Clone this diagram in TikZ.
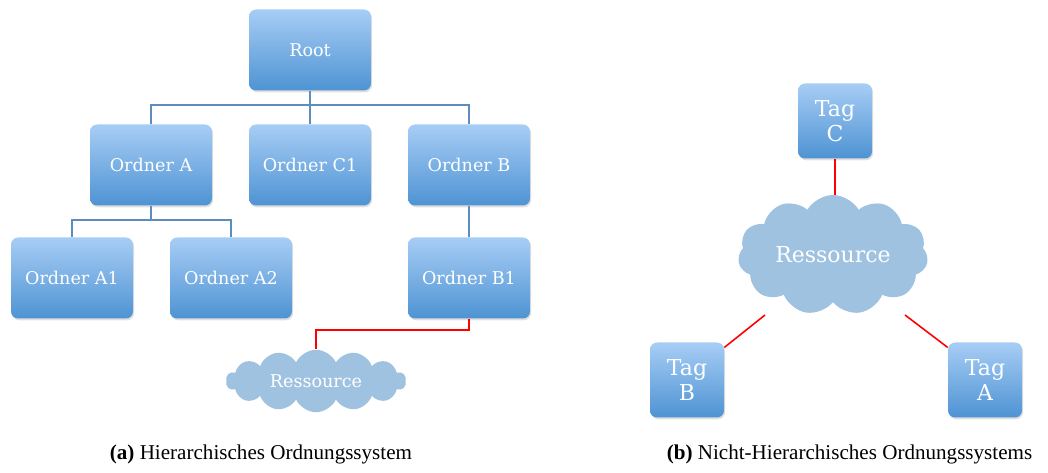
\documentclass[tikz,border=0pt]{standalone}
\usepackage{fontspec}
\setmainfont{Liberation Serif}
\newfontfamily\boxfont{DejaVu Serif}
\usetikzlibrary{positioning,
                shapes.symbols,
                shadows
            }

\definecolor{boxtop}{HTML}{A7CDF5}
\definecolor{boxbottom}{HTML}{4E93D3}
\definecolor{cloudfill}{HTML}{A0C2E1}
\definecolor{treeline}{HTML}{5C8DBE}

\tikzset{
    ordner/.style={rounded corners=4pt, top color=boxtop, bottom color=boxbottom,
        minimum width=2.44cm, minimum height=1.62cm, text=white,
        font=\boxfont\fontsize{10}{12}\selectfont,
        drop shadow={opacity=0.25, shadow xshift=0.6pt, shadow yshift=-1pt}},
    tagbox/.style={ordner, minimum width=1.48cm, minimum height=1.5cm,
        align=center, font=\boxfont\fontsize{12.5}{14}\selectfont},
    wolke/.style={cloud, cloud puffs=10, cloud puff arc=120, cloud ignores aspect,
        fill=cloudfill, text=white, inner sep=0pt},
    baum/.style={draw=treeline, line width=0.6pt},
    rot/.style={draw=red, line width=0.9pt}
}

\begin{document}
\begin{tikzpicture}
    \useasboundingbox (0,0) rectangle (20.96,9.44);

    % (a) hierarchisch
    \node[ordner] (root) at (6.2, 8.44) {Root};
    \node[ordner] (oa) at (3.02, 6.14) {Ordner A};
    \node[ordner] (oc1) at (6.2, 6.14) {Ordner C1};
    \node[ordner] (ob) at (9.38, 6.14) {Ordner B};
    \node[ordner] (oa1) at (1.44, 3.88) {Ordner A1};
    \node[ordner] (oa2) at (4.62, 3.88) {Ordner A2};
    \node[ordner] (ob1) at (9.38, 3.88) {Ordner B1};
    \node[wolke, cloud puffs=14, cloud puff arc=130, minimum width=3.6cm, minimum height=1.25cm,
          font=\boxfont\fontsize{10}{12}\selectfont] (res1) at (6.32, 1.82) {Ressource};

    \coordinate (bus) at (6.2, 7.34);
    \coordinate (busa) at (3.02, 5.04);
    \coordinate (knick) at (9.38, 2.84);
    \draw[baum] (root.south) -- (bus);
    \draw[baum] (oa.north) |- (bus) -| (ob.north);
    \draw[baum] (oc1.north) -- (oc1.north |- bus);
    \draw[baum] (oa.south) -- (busa);
    \draw[baum] (oa1.north) |- (busa) -| (oa2.north);
    \draw[baum] (ob.south) -- (ob1.north);
    \draw[rot] (ob1.south) -- (knick) -| (res1.north);

    % (b) nicht-hierarchisch
    \node[tagbox] (tagc) at (16.7, 7.02) {Tag\\C};
    \node[tagbox] (tagb) at (13.74, 1.84) {Tag\\B};
    \node[tagbox] (taga) at (19.7, 1.84) {Tag\\A};
    \node[wolke, cloud puffs=11, minimum width=3.8cm, minimum height=2.4cm,
          font=\boxfont\fontsize{12.5}{14}\selectfont] (res2) at (16.66, 4.34) {Ressource};

    \coordinate (endb) at (15.3, 3.14);
    \coordinate (enda) at (18.1, 3.14);
    \draw[rot] (tagc.south) -- (res2.north -| tagc.south);
    \draw[rot] ([yshift=-3pt]tagb.north east) -- (endb);
    \draw[rot] ([yshift=-3pt]taga.north west) -- (enda);

    % Unterschriften
    \node[font=\fontsize{12}{14}\selectfont] (capa) at (5.22, 0.36) {\textbf{(a)} Hierarchisches Ordnungssystem};
    \node[font=\fontsize{12}{14}\selectfont] (capb) at (16.99, 0.36) {\textbf{(b)} Nicht-Hierarchisches Ordnungssystems};
\end{tikzpicture}
\end{document}
